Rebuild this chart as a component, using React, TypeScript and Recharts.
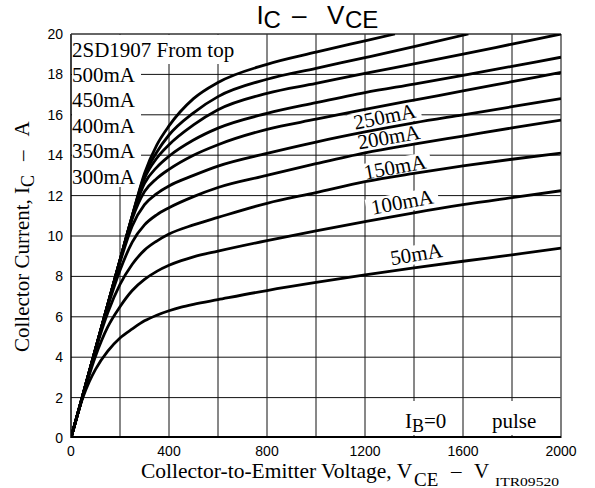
import React from 'react';
import { LineChart, Line, XAxis, YAxis, CartesianGrid, ReferenceLine } from 'recharts';

// ---- axes ----
const xTicks = [0, 400, 800, 1200, 1600, 2000];
const yTicks = [0, 2, 4, 6, 8, 10, 12, 14, 16, 18, 20];
const xGridValues = [200, 400, 600, 800, 1000, 1200, 1400, 1600, 1800];
const yGridValues = [2, 4, 6, 8, 10, 12, 14, 16, 18];

// ---- curves: [VCE (V), IC (A)] ----
const ib0: [number, number][] = [[0, 0], [2000, 0]];
const ib50: [number, number][] = [
  [0, 0], [25, 1.1], [50, 2.05], [75, 2.8], [100, 3.4], [150, 4.3], [200, 4.95], [250, 5.4],
  [300, 5.8], [350, 6.08], [400, 6.3], [450, 6.48], [500, 6.62], [600, 6.85], [800, 7.3], [1000, 7.7],
  [1200, 8.07], [1400, 8.42], [1600, 8.75], [1800, 9.07], [2000, 9.4],
];
const ib100: [number, number][] = [
  [0, 0], [50, 2.15], [100, 4.05], [150, 5.5], [200, 6.5], [250, 7.3], [300, 7.85], [350, 8.25],
  [400, 8.55], [450, 8.78], [500, 8.97], [600, 9.25], [800, 9.77], [1000, 10.25], [1200, 10.71], [1400, 11.15],
  [1600, 11.55], [1800, 11.9], [2000, 12.24],
];
const ib150: [number, number][] = [
  [0, 0], [50, 2.2], [100, 4.35], [150, 6.2], [200, 7.6], [250, 8.6], [300, 9.3], [350, 9.75],
  [400, 10.1], [500, 10.55], [600, 10.92], [800, 11.62], [1000, 12.15], [1200, 12.69], [1400, 13.1],
  [1600, 13.47], [1800, 13.8], [2000, 14.1],
];
const ib200: [number, number][] = [
  [0, 0], [50, 2.2], [100, 4.4], [150, 6.5], [200, 8.3], [250, 9.7], [300, 10.55], [350, 11.05],
  [400, 11.4], [500, 11.95], [600, 12.4], [800, 13.0], [1000, 13.58], [1200, 14.12], [1400, 14.55],
  [1600, 14.95], [1800, 15.35], [2000, 15.74],
];
const ib250: [number, number][] = [
  [0, 0], [50, 2.2], [100, 4.4], [150, 6.6], [200, 8.7], [250, 10.5], [300, 11.55], [350, 12.1],
  [400, 12.48], [500, 13.0], [600, 13.46], [800, 14.09], [1000, 14.65], [1200, 15.15], [1400, 15.6],
  [1600, 16.0], [1800, 16.4], [2000, 16.8],
];
const ib300: [number, number][] = [
  [0, 0], [50, 2.2], [100, 4.4], [150, 6.6], [200, 8.8], [250, 10.85], [300, 12.2], [350, 12.85],
  [400, 13.3], [500, 14.0], [600, 14.52], [800, 15.28], [1000, 15.78], [1200, 16.27], [1400, 16.73],
  [1600, 17.18], [1800, 17.64], [2000, 18.1],
];
const ib350: [number, number][] = [
  [0, 0], [50, 2.2], [100, 4.4], [150, 6.6], [200, 8.8], [250, 10.95], [300, 12.6], [350, 13.4],
  [400, 13.95], [500, 14.75], [600, 15.34], [800, 16.07], [1000, 16.6], [1200, 17.1], [1400, 17.52],
  [1600, 17.95], [1800, 18.4], [2000, 18.85],
];
const ib400: [number, number][] = [
  [0, 0], [100, 4.4], [200, 8.8], [250, 11.0], [300, 12.85], [350, 13.85], [400, 14.52], [500, 15.5],
  [600, 16.25], [800, 17.06], [1000, 17.55], [1200, 18.05], [1400, 18.52], [1600, 19.0], [1800, 19.5],
  [2000, 20.0],
];
const ib450: [number, number][] = [
  [0, 0], [100, 4.4], [200, 8.8], [250, 11.0], [300, 13.0], [350, 14.15], [400, 15.0], [500, 16.1],
  [600, 16.9], [800, 17.76], [1000, 18.3], [1200, 18.83], [1400, 19.37], [1622, 20.0],
];
const ib500: [number, number][] = [
  [0, 0], [100, 4.4], [200, 8.8], [250, 11.0], [300, 13.1], [350, 14.5], [400, 15.45], [500, 16.8],
  [600, 17.6], [800, 18.5], [1000, 19.1], [1200, 19.66], [1322, 20.0],
];

const curves = [ib500, ib450, ib400, ib350, ib300, ib250, ib200, ib150, ib100, ib50];

// ---- labels ----
const leftLabels = ['500mA', '450mA', '400mA', '350mA', '300mA'];
const curveLabels = ['250mA', '200mA', '150mA', '100mA', '50mA'];

// plot geometry (chart frame)
const W = 595;
const H = 488;
const PL = 71;
const PR = 561;
const PT = 34;
const PB = 438;
const px = (v: number) => PL + (v / 2000) * (PR - PL);
const py = (i: number) => PB - (i / 20) * (PB - PT);

const SERIF = '"Liberation Serif", "Times New Roman", serif';
const SANS = '"Liberation Sans", Arial, sans-serif';

// anchor points (data space) and rotation for the in-plot curve labels
const curveLabelPos: { v: number; i: number; a: number }[] = [
  { v: 1286, i: 15.57, a: -11.5 },
  { v: 1302, i: 14.55, a: -10 },
  { v: 1327, i: 13.07, a: -10.5 },
  { v: 1357, i: 11.34, a: -10.5 },
  { v: 1414, i: 8.76, a: -9 },
];

const toData = (pts: [number, number][]) => pts.map(([v, i]) => ({ v, i }));

const Backgrounds = () => (
  <g>
    {/* label boxes hide the grid */}
    <rect x={72} y={35} width={168} height={29} fill="#fff" />
    <rect x={72} y={64} width={69} height={123} fill="#fff" />
    {curveLabels.map((t, k) => {
      const p = curveLabelPos[k];
      const cx = px(p.v);
      const cy = py(p.i);
      const w = t.length * 12.6 + 10;
      return (
        <rect
          key={t}
          x={cx - w / 2}
          y={cy - 16}
          width={w}
          height={19}
          fill="#fff"
          transform={`rotate(${p.a}, ${cx}, ${cy})`}
        />
      );
    })}
    <rect x={401} y={401} width={51} height={34} fill="#fff" />
    <rect x={488} y={401} width={52} height={34} fill="#fff" />
  </g>
);

const Texts = () => (
  <g>
    {/* title */}
    <text fontFamily={SANS} fill="#000">
      <tspan x={256.5} y={24} fontSize={26}>I</tspan>
      <tspan x={263.5} y={27.5} fontSize={24}>C</tspan>
      <tspan x={292} y={24} fontSize={26}>–</tspan>
      <tspan x={327} y={24} fontSize={26}>V</tspan>
      <tspan x={345} y={27.5} fontSize={24}>CE</tspan>
    </text>

    {/* y axis title */}
    <text
      fontFamily={SERIF}
      fontSize={21}
      fill="#000"
      transform="rotate(-90, 28.5, 352)"
      x={28.5}
      y={352}
    >
      Collector Current, I
      <tspan fontSize={18} dy={5}>C</tspan>
      <tspan dy={-5} dx={14}>–</tspan>
      <tspan dx={14}>A</tspan>
    </text>

    {/* x axis title */}
    <text fontFamily={SERIF} fill="#000">
      <tspan x={141} y={478} fontSize={21.5}>Collector-to-Emitter Voltage, V</tspan>
      <tspan x={414} y={485.5} fontSize={19}>CE</tspan>
      <tspan x={451} y={478} fontSize={21}>–</tspan>
      <tspan x={474} y={478} fontSize={21}>V</tspan>
    </text>
    <text x={495} y={485.5} fontFamily={SERIF} fontSize={12.5} textLength={64} lengthAdjust="spacingAndGlyphs" fill="#000">
      ITR09520
    </text>

    {/* inner labels */}
    <text x={72} y={57} fontFamily={SERIF} fontSize={21} fill="#000">2SD1907 From top</text>
    {leftLabels.map((t, k) => (
      <text key={t} x={72} y={82 + k * 25.4} fontFamily={SERIF} fontSize={21} fill="#000">
        {t}
      </text>
    ))}
    {curveLabels.map((t, k) => {
      const p = curveLabelPos[k];
      const cx = px(p.v);
      const cy = py(p.i);
      return (
        <text
          key={t}
          x={cx}
          y={cy}
          textAnchor="middle"
          fontFamily={SERIF}
          fontSize={21}
          fill="#000"
          transform={`rotate(${p.a}, ${cx}, ${cy})`}
        >
          {t}
        </text>
      );
    })}
    <text fontFamily={SERIF} fill="#000">
      <tspan x={405} y={427.5} fontSize={21}>I</tspan>
      <tspan x={412} y={432} fontSize={18}>B</tspan>
      <tspan x={424} y={427.5} fontSize={21}>=0</tspan>
    </text>
    <text x={492} y={427.5} fontFamily={SERIF} fontSize={21} fill="#000">pulse</text>
  </g>
);

export default function App() {
  return (
    <div style={{ position: 'absolute', left: 0, top: 0, width: W, height: H, background: '#fff' }}>
      <LineChart width={W} height={H} margin={{ top: PT, right: W - PR, bottom: 0, left: 0 }}>
        <CartesianGrid
          horizontalValues={yGridValues}
          verticalValues={xGridValues}
          stroke="#111"
          strokeWidth={1}
          strokeDasharray=""
        />
        <XAxis
          dataKey="v"
          type="number"
          domain={[0, 2000]}
          ticks={xTicks}
          height={H - PB}
          tickLine={false}
          axisLine={false}
          tickMargin={2}
          allowDataOverflow
          tick={{ fontSize: 14, fontFamily: SANS, fill: '#000' }}
        />
        <YAxis
          dataKey="i"
          type="number"
          domain={[0, 20]}
          ticks={yTicks}
          width={PL}
          tickLine={false}
          axisLine={false}
          allowDataOverflow
          tick={{ fontSize: 14, fontFamily: SANS, fill: '#000' }}
        />
        <Backgrounds />
        <ReferenceLine x={0} stroke="#000" strokeWidth={1.5} />
        <ReferenceLine x={2000} stroke="#555" strokeWidth={1.5} />
        <ReferenceLine y={20} stroke="#333" strokeWidth={1.5} />
        {curves.map((c, k) => (
          <Line
            key={k}
            data={toData(c)}
            dataKey="i"
            type="monotone"
            dot={false}
            activeDot={false}
            stroke="#000"
            strokeWidth={2.8}
            isAnimationActive={false}
          />
        ))}
        <Line
          data={toData(ib0)}
          dataKey="i"
          type="linear"
          dot={false}
          activeDot={false}
          stroke="#000"
          strokeWidth={4}
          isAnimationActive={false}
        />
        <Texts />
      </LineChart>
    </div>
  );
}
